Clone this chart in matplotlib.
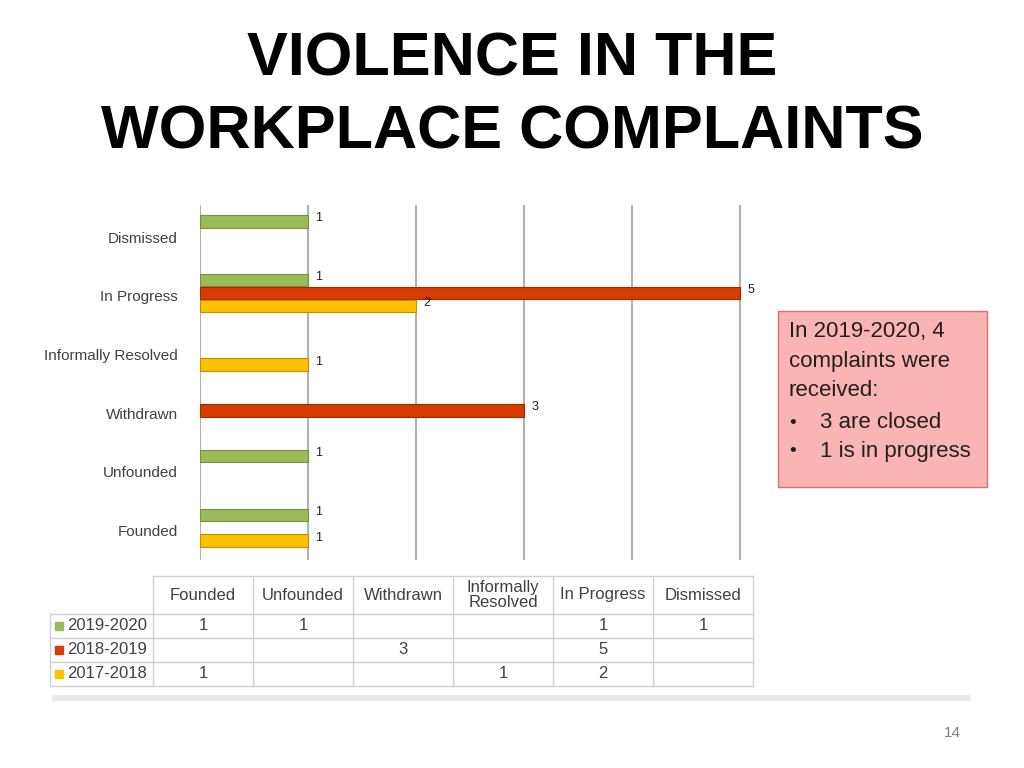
import matplotlib
matplotlib.use("Agg")
import matplotlib.pyplot as plt
from matplotlib.patches import Rectangle

plt.rcParams["font.family"] = "Liberation Sans"

categories = ["Founded", "Unfounded", "Withdrawn", "Informally Resolved", "In Progress", "Dismissed"]
series_names = ["2019-2020", "2018-2019", "2017-2018"]
v2019 = [1, 1, None, None, 1, 1]
v2018 = [None, None, 3, None, 5, None]
v2017 = [1, None, None, 1, 2, None]
series_vals = [v2019, v2018, v2017]
colors = ["#9bbb59", "#d83b01", "#ffc000"]
edge = ["#76923c", "#a02c00", "#c09000"]
offsets = [0.22, 0.0, -0.22]

fig = plt.figure(figsize=(10.24, 7.68), dpi=100)
bg = fig.add_axes([0, 0, 1, 1])
bg.set_xlim(0, 1024); bg.set_ylim(768, 0); bg.axis("off")

bg.text(512, 60, "VIOLENCE IN THE", ha="center", va="center", fontsize=44, fontweight="bold")
bg.text(512, 133, "WORKPLACE COMPLAINTS", ha="center", va="center", fontsize=44, fontweight="bold")

# table
xs = [50, 153, 253, 353, 453, 553, 653, 753]
ys = [576, 614, 638, 662, 686]
tc = "#d0d0d0"
bg.plot([153, 753], [576, 576], color=tc, lw=1)
for y in ys[1:]:
    bg.plot([50, 753], [y, y], color=tc, lw=1)
for i, x in enumerate(xs):
    bg.plot([x, x], [576 if i > 0 else 614, 686], color=tc, lw=1)
hdr = ["Founded", "Unfounded", "Withdrawn", "Informally\nResolved", "In Progress", "Dismissed"]
for j, h in enumerate(hdr):
    bg.text((xs[j+1] + xs[j+2]) / 2, 595, h, ha="center", va="center", fontsize=12, color="#404040", linespacing=1.0)
for r, (name, vals) in enumerate(zip(series_names, series_vals)):
    yc = (ys[r+1] + ys[r+2]) / 2
    bg.add_patch(Rectangle((55, yc - 4), 8, 8, color=colors[r]))
    bg.text(67, yc, name, ha="left", va="center", fontsize=12, color="#404040")
    for j, v in enumerate(vals):
        if v is not None:
            bg.text((xs[j+1] + xs[j+2]) / 2, yc, str(v), ha="center", va="center", fontsize=12, color="#404040")

# callout
bg.add_patch(Rectangle((778, 311), 209, 176, facecolor="#fab4b4", edgecolor="#e07070", lw=1))
lines = ["In 2019-2020, 4", "complaints were", "received:"]
for k, t in enumerate(lines):
    bg.text(789, 332 + k * 29, t, ha="left", va="center", fontsize=16, color="#202020")
for k, t in enumerate(["3 are closed", "1 is in progress"]):
    bg.text(789, 423 + k * 28, "\u2022", ha="left", va="center", fontsize=14, color="#202020")
    bg.text(820, 423 + k * 28, t, ha="left", va="center", fontsize=16, color="#202020")

bg.plot([55, 968], [698, 698], color="#e8e8e8", lw=4)
bg.text(952, 733, "14", ha="center", va="center", fontsize=11, color="#808080")

ax = fig.add_axes([200/1024, 1 - 560/768, 545/1024, 355/768])
ax.set_xlim(0, 5.05); ax.set_ylim(-0.55, 5.5)
for s in ax.spines.values():
    s.set_visible(False)
for g in range(6):
    ax.axvline(g, color="#b0b0b0", lw=1.5, zorder=0)
for k, vals in enumerate(series_vals):
    for i, v in enumerate(vals):
        if v is None:
            continue
        y = i + offsets[k]
        ax.barh(y, v, height=0.21, color=colors[k], edgecolor=edge[k], lw=0.8, zorder=3)
        ax.text(v + 0.07, y + 0.05, str(v), ha="left", va="center", fontsize=9, color="#202020")
ax.set_yticks([i - 0.05 for i in range(len(categories))])
ax.set_yticklabels(categories, fontsize=11, color="#404040")
ax.tick_params(axis="y", length=0, pad=16)
ax.set_xticks([])
fig.savefig("out.png", dpi=100)
